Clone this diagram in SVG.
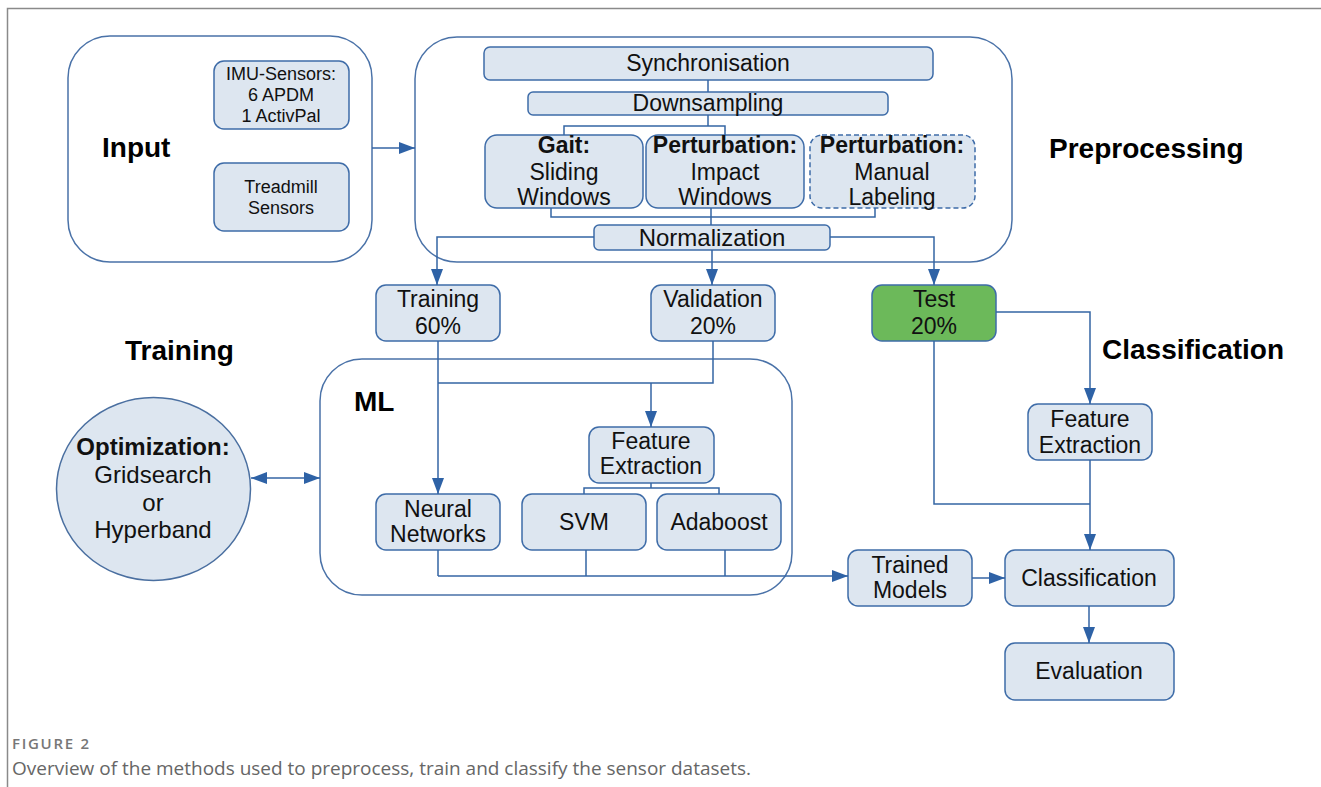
<svg xmlns="http://www.w3.org/2000/svg" width="1321" height="787" viewBox="0 0 1321 787">
<style>
.frame{fill:none;stroke:#8a8a8a;stroke-width:1.5}
.cont{fill:#fff;stroke:#4a72a8;stroke-width:1.5}
.box{fill:#dde6f0;stroke:#3e6ca8;stroke-width:1.5}
.dash{stroke-dasharray:5 3}
.green{fill:#6cb95a}
.t{font-family:"Liberation Sans",Arial,sans-serif;font-size:23px;fill:#111;text-anchor:middle}
.s{font-size:18px}
.b{font-weight:bold}
.h{font-family:"Liberation Sans",Arial,sans-serif;font-size:28px;font-weight:bold;fill:#000}
.c{fill:none;stroke:#3465a4;stroke-width:1.5}
.cap1{font-family:"Open Sans",sans-serif;font-size:15px;font-weight:600;fill:#777}
.cap2{font-family:"Open Sans",sans-serif;font-size:18px;fill:#666}
</style>
<defs>
<marker id="ah" markerWidth="16" markerHeight="12" refX="16" refY="6" orient="auto-start-reverse" markerUnits="userSpaceOnUse"><path d="M0,0 L16,6 L0,12 z" fill="#2e62a6"/></marker>
</defs>
<rect width="1321" height="787" fill="#fff"/>
<path class="frame" d="M7.5,787 V8.5 H1321"/>

<g id="input-group">
<rect class="cont" x="68" y="36" width="304" height="226" rx="42"/>
<text class="h" x="102" y="157">Input</text>
</g>
<g id="imu"><rect class="box" x="214" y="61" width="135" height="68" rx="10"/>
<text class="t s" x="281" y="80">IMU-Sensors:</text><text class="t s" x="281" y="101">6 APDM</text><text class="t s" x="281" y="122">1 ActivPal</text></g>
<g id="treadmill"><rect class="box" x="214" y="163" width="135" height="68" rx="10"/>
<text class="t s" x="281" y="193">Treadmill</text><text class="t s" x="281" y="214">Sensors</text></g>

<g id="preprocessing-group">
<rect class="cont" x="415" y="37" width="597" height="225" rx="42"/>
<text class="h" x="1049" y="158">Preprocessing</text>
</g>
<g id="sync"><rect class="box" x="484" y="47" width="449" height="33" rx="6"/><text class="t" x="708" y="71">Synchronisation</text></g>
<g id="downsampling"><rect class="box" x="528" y="92" width="360" height="23" rx="5"/><text class="t" x="708" y="111">Downsampling</text></g>
<g id="gait"><rect class="box" x="485" y="135" width="158" height="73" rx="12"/>
<text class="t b" x="564" y="153">Gait:</text><text class="t" x="564" y="180">Sliding</text><text class="t" x="564" y="205">Windows</text></g>
<g id="impact"><rect class="box" x="646" y="135" width="158" height="73" rx="12"/>
<text class="t b" x="725" y="153">Perturbation:</text><text class="t" x="725" y="180">Impact</text><text class="t" x="725" y="205">Windows</text></g>
<g id="manual"><rect class="box dash" x="810" y="135" width="165" height="73" rx="12"/>
<text class="t b" x="892" y="153">Perturbation:</text><text class="t" x="892" y="180">Manual</text><text class="t" x="892" y="205">Labeling</text></g>
<g id="normalization"><rect class="box" x="594" y="225" width="236" height="25" rx="5"/><text class="t" x="712" y="246" style="font-size:24px">Normalization</text></g>

<g id="training"><rect class="box" x="376" y="285" width="124" height="56" rx="10"/>
<text class="t" x="438" y="307">Training</text><text class="t" x="438" y="334">60%</text></g>
<g id="validation"><rect class="box" x="651" y="285" width="124" height="56" rx="10"/>
<text class="t" x="713" y="307">Validation</text><text class="t" x="713" y="334">20%</text></g>
<g id="test"><rect class="box green" x="872" y="285" width="124" height="56" rx="10"/>
<text class="t" x="934" y="307">Test</text><text class="t" x="934" y="334">20%</text></g>

<g id="training-label"><text class="h" x="125" y="360">Training</text></g>
<g id="classification-label"><text class="h" x="1102" y="359">Classification</text></g>

<g id="optimization"><ellipse cx="153.5" cy="489" rx="97" ry="91.5" fill="#dde6f0" stroke="#4a6fa0" stroke-width="1.5"/>
<text class="t b" x="153" y="455" style="font-size:24px">Optimization:</text>
<text class="t" x="153" y="483" style="font-size:24px">Gridsearch</text>
<text class="t" x="153" y="511" style="font-size:24px">or</text>
<text class="t" x="153" y="538" style="font-size:24px">Hyperband</text></g>

<g id="ml-group">
<rect class="cont" x="320" y="359" width="472" height="236" rx="42"/>
<text class="h" x="354" y="411">ML</text>
</g>
<g id="fe-ml"><rect class="box" x="589" y="427" width="125" height="56" rx="10"/>
<text class="t" x="651" y="449">Feature</text><text class="t" x="651" y="474">Extraction</text></g>
<g id="neural"><rect class="box" x="376" y="494" width="124" height="56" rx="10"/>
<text class="t" x="438" y="517">Neural</text><text class="t" x="438" y="542">Networks</text></g>
<g id="svm"><rect class="box" x="522" y="494" width="124" height="56" rx="10"/><text class="t" x="584" y="530">SVM</text></g>
<g id="adaboost"><rect class="box" x="657" y="494" width="124" height="56" rx="10"/><text class="t" x="719" y="530">Adaboost</text></g>

<g id="trained-models"><rect class="box" x="848" y="550" width="124" height="56" rx="10"/>
<text class="t" x="910" y="573">Trained</text><text class="t" x="910" y="598">Models</text></g>
<g id="fe-cls"><rect class="box" x="1028" y="404" width="124" height="56" rx="10"/>
<text class="t" x="1090" y="427">Feature</text><text class="t" x="1090" y="453">Extraction</text></g>
<g id="classification"><rect class="box" x="1005" y="550" width="169" height="56" rx="10"/><text class="t" x="1089" y="586">Classification</text></g>
<g id="evaluation"><rect class="box" x="1005" y="643" width="169" height="57" rx="10"/><text class="t" x="1089" y="679">Evaluation</text></g>

<g id="connectors">
<path class="c" d="M372,148 H415" marker-end="url(#ah)"/>
<path class="c" d="M708,80 V92"/>
<path class="c" d="M708,115 V126 M564,135 V126 H725 V135"/>
<path class="c" d="M551,208 V217 H875 V208 M711,208 V225"/>
<path class="c" d="M594,237 H437 V285" marker-end="url(#ah)"/>
<path class="c" d="M712,250 V285" marker-end="url(#ah)"/>
<path class="c" d="M830,237 H934 V285" marker-end="url(#ah)"/>
<path class="c" d="M438,341 V494" marker-end="url(#ah)"/>
<path class="c" d="M713,341 V383 H438"/>
<path class="c" d="M651,383 V427" marker-end="url(#ah)"/>
<path class="c" d="M651,483 V488 M584,494 V488 H719 V494"/>
<path class="c" d="M438,550 V576 M586,550 V576 M725,550 V576"/>
<path class="c" d="M438,576 H848" marker-end="url(#ah)"/>
<path class="c" d="M972,578 H1005" marker-end="url(#ah)"/>
<path class="c" d="M1089,606 V643" marker-end="url(#ah)"/>
<path class="c" d="M996,312 H1090 V404" marker-end="url(#ah)"/>
<path class="c" d="M1090,460 V550" marker-end="url(#ah)"/>
<path class="c" d="M934,341 V504 H1090"/>
<path class="c" d="M251,478 H320" marker-start="url(#ah)" marker-end="url(#ah)"/>
</g>

<text class="cap1" x="12" y="749" textLength="77" lengthAdjust="spacing">FIGURE 2</text>
<text class="cap2" x="12" y="775" textLength="739" lengthAdjust="spacingAndGlyphs">Overview of the methods used to preprocess, train and classify the sensor datasets.</text>
</svg>
